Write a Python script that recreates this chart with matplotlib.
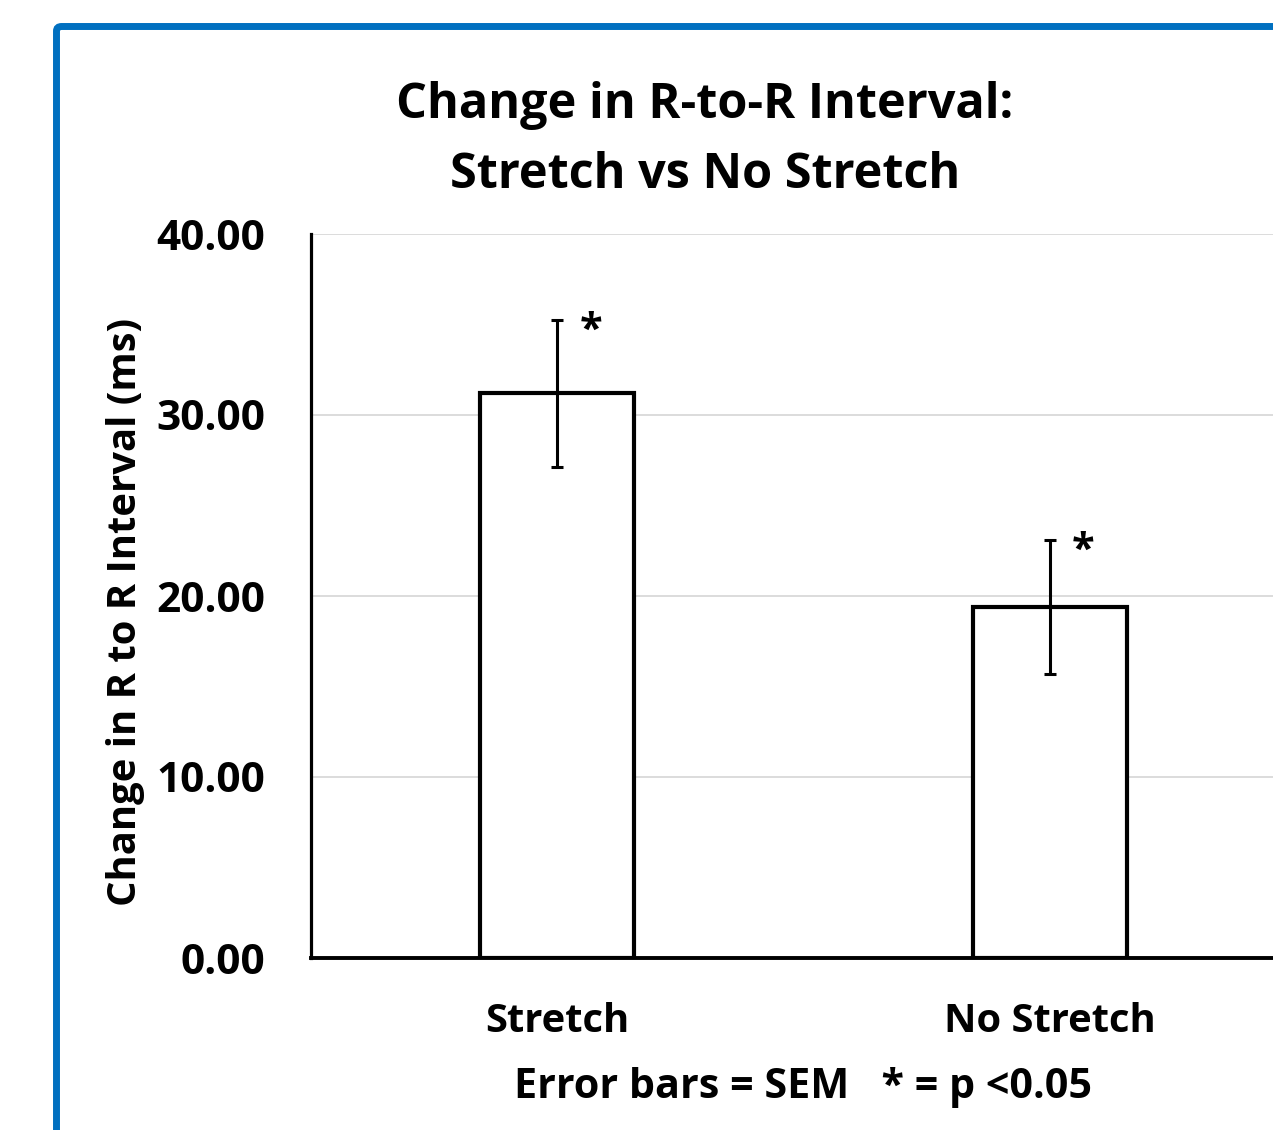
import matplotlib
matplotlib.use("Agg")
import matplotlib.pyplot as plt
from matplotlib.patches import FancyBboxPatch

# Data
categories = ["Stretch", "No Stretch"]
means = [31.2, 19.4]
sem = [4.05, 3.7]
significance = ["*", "*"]
y_ticks = [0.0, 10.0, 20.0, 30.0, 40.0]

W, H = 1273, 1130
DPI = 100
plt.rcParams["font.family"] = ["Open Sans", "DejaVu Sans"]
plt.rcParams["font.weight"] = "bold"

fig = plt.figure(figsize=(W / DPI, H / DPI), dpi=DPI)

# Blue chart frame (extends past the right and bottom edges)
frame = FancyBboxPatch((56.5 / W, 1 - 1170 / H), 1300 / W, (1170 - 26.5) / H,
                       boxstyle="round,pad=0,rounding_size=0.004",
                       transform=fig.transFigure, facecolor="none",
                       edgecolor="#0070C0", linewidth=5.0, zorder=0)
fig.patches.append(frame)

left, right = 311 / W, 1296 / W
bottom, top = 1 - 958 / H, 1 - 234 / H
ax = fig.add_axes([left, bottom, right - left, top - bottom])
ax.set_xlim(-0.5, 1.5)
ax.set_ylim(0, 40)

x = list(range(len(categories)))
ax.bar(x, means, width=0.313, facecolor="white", edgecolor="black",
       linewidth=3.0, zorder=3)
ax.errorbar(x, means, yerr=sem, fmt="none", ecolor="black", elinewidth=2.2,
            capsize=4.5, capthick=2.2, zorder=4)

for xi, m, s, sig in zip(x, means, sem, significance):
    ax.text(xi + 0.068, m + s - 0.65, sig, ha="center", va="center",
            fontsize=30, fontweight="bold", zorder=5)

ax.set_yticks(y_ticks)
ax.set_yticklabels([f"{v:.2f}" for v in y_ticks])
ax.yaxis.grid(True, color="#D9D9D9", linewidth=1.3, zorder=0)
ax.set_axisbelow(True)
ax.tick_params(axis="y", length=0, pad=33, labelsize=30.5)
ax.set_xticks(x)
ax.set_xticklabels(categories)
ax.tick_params(axis="x", length=0, pad=32, labelsize=28.7)

for side in ["top", "right"]:
    ax.spines[side].set_visible(False)
ax.spines["left"].set_linewidth(2.3)
ax.spines["bottom"].set_linewidth(2.8)

fig.text(126 / W, 1 - 612 / H, "Change in R to R Interval (ms)", rotation=90,
         ha="center", va="center", fontsize=28.8, fontweight="bold")

fig.text(705 / W, 1 - 106 / H, "Change in R-to-R Interval:",
         ha="center", va="center", fontsize=35, fontweight="bold")
fig.text(705 / W, 1 - 176 / H, "Stretch vs No Stretch",
         ha="center", va="center", fontsize=35, fontweight="bold")
fig.text(803 / W, 1 - 1087 / H, "Error bars = SEM   * = p <0.05",
         ha="center", va="center", fontsize=29.7, fontweight="bold")

fig.savefig("out.png", dpi=DPI)
